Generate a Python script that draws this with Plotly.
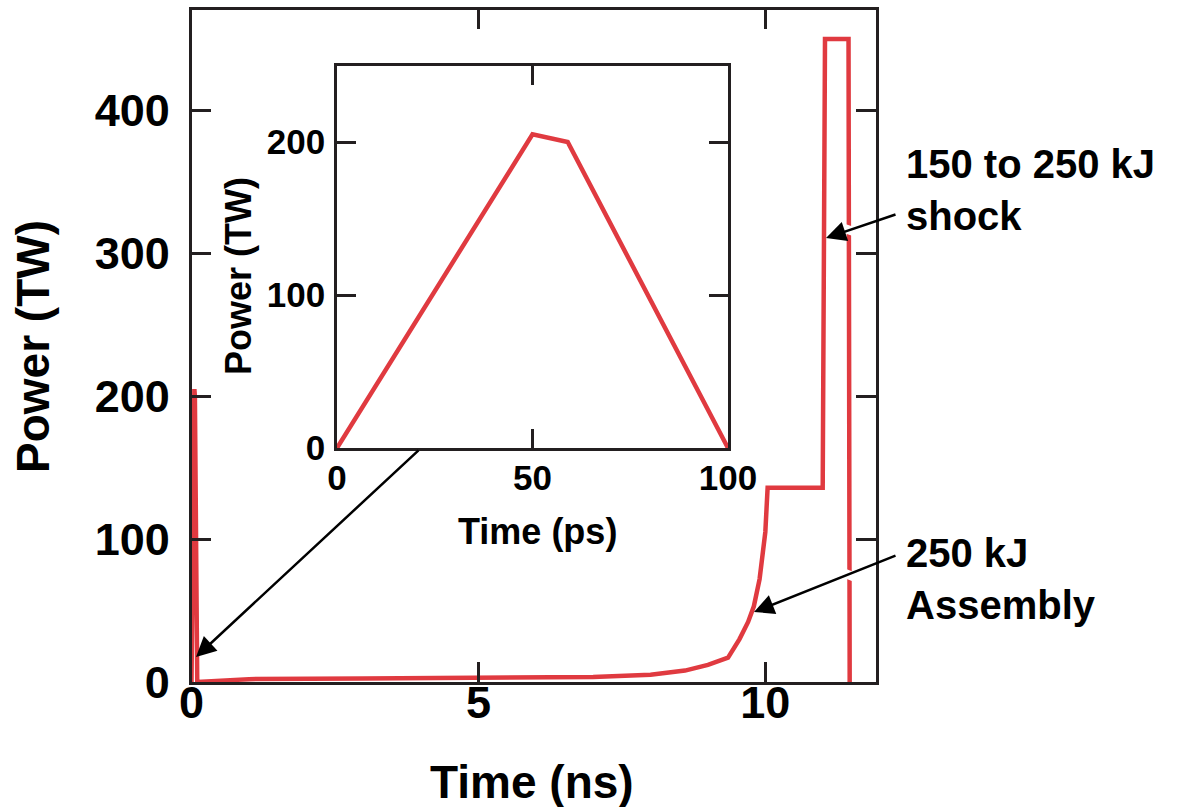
import plotly.graph_objects as go

# Laser pulse shape: power (TW) vs time (ns)
time_ns = [0.0, 0.05, 0.059, 0.1, 1.0, 3.0, 5.0, 7.0, 8.0, 8.6, 9.0, 9.35, 9.55,
           9.7, 9.8, 9.9, 10.0, 10.04, 11.0, 11.04, 11.45, 11.47]
power_tw = [0, 205, 200, 0, 2, 2.5, 3, 3.5, 5, 8, 12, 17, 30,
            42, 53, 72, 105, 136, 136, 450, 450, 0]

# Expanded view of the initial spike: power (TW) vs time (ps)
time_ps = [0, 50, 59, 100]
spike_tw = [0, 205, 200, 0]

main_xticks = [0, 5, 10]
main_yticks = [0, 100, 200, 300, 400]
inset_xticks = [0, 50, 100]
inset_yticks = [0, 100, 200]

RED = "#e03a40"
INK = "#231f20"
FONT = "Liberation Sans"
W, H = 1188, 807

fig = go.Figure()
fig.add_trace(go.Scatter(x=time_ns, y=power_tw, mode="lines",
                         line=dict(color=RED, width=4.5), xaxis="x", yaxis="y",
                         showlegend=False))
fig.add_trace(go.Scatter(x=time_ps, y=spike_tw, mode="lines",
                         line=dict(color=RED, width=4.5), xaxis="x2", yaxis="y2",
                         showlegend=False))

def axis(domain, rng, ticks, size, ticklen, anchor, standoff):
    return dict(domain=domain, range=rng, tickvals=ticks, ticktext=[str(t) for t in ticks],
                showline=True, linecolor=INK, linewidth=2.5, mirror="ticks",
                ticks="inside", ticklen=ticklen, tickwidth=2.5, tickcolor=INK,
                showgrid=False, zeroline=False, anchor=anchor, automargin=False,
                ticklabelstandoff=standoff,
                tickfont=dict(family=FONT, size=size, color="black", weight="bold"))

mx = [191.5 / W, 875.5 / W]
my = [1 - 682 / H, 1 - 9.5 / H]
ix = [337 / W, 728 / W]
iy = [1 - 448 / H, 1 - 66 / H]

fig.update_layout(
    template="none",
    width=W, height=H, margin=dict(l=0, r=0, t=0, b=0, pad=0, autoexpand=False),
    autosize=False, showlegend=False,
    paper_bgcolor="white", plot_bgcolor="white",
    xaxis=axis(mx, [0, 11.92], main_xticks, 45, 20, "y", -21),
    yaxis=axis(my, [0, 470.6], main_yticks, 45, 20, "x", 10),
    xaxis2=axis(ix, [0, 100], inset_xticks, 35, 19, "y2", -3),
    yaxis2=axis(iy, [0, 249.7], inset_yticks, 35, 19, "x2", 2),
)

def px(x, y):
    return x / W, 1 - y / H

def text(x, y, s, size, angle=0, xanchor="center"):
    fx, fy = px(x, y)
    fig.add_annotation(x=fx, y=fy, xref="paper", yref="paper", text=s, showarrow=False,
                       textangle=angle, xanchor=xanchor, yanchor="middle", align="left",
                       font=dict(family=FONT, size=size, color="black", weight="bold"))

# Axis titles
text(532, 782, "Time (ns)", 46)
text(33, 347, "Power (TW)", 46, angle=-90)
text(537, 531, "Time (ps)", 36)
text(238, 276, "Power (TW)", 36, angle=-90)

# Labels
text(904, 190, "150 to 250 kJ<br>shock", 40, xanchor="left")
text(904, 579, "250 kJ<br>Assembly", 40, xanchor="left")

# White knock-outs where the pointers cross the pulse
for (x0, y0, x1, y1) in [(840, 227.0, 858, 233.0), (840, 571.5, 858, 578.5)]:
    a0, b0 = px(x0, y0)
    a1, b1 = px(x1, y1)
    fig.add_shape(type="line", xref="paper", yref="paper", x0=a0, y0=b0, x1=a1, y1=b1,
                  line=dict(color="white", width=9), layer="above")

def arrow(tail, head):
    hx, hy = px(*head)
    fig.add_annotation(x=hx, y=hy, xref="paper", yref="paper",
                       ax=tail[0] - head[0], ay=tail[1] - head[1],
                       axref="pixel", ayref="pixel", text="", showarrow=True,
                       arrowhead=2, arrowsize=1.6, arrowwidth=2.5, arrowcolor="black")

arrow((420, 449), (196, 657))
arrow((897, 214), (826, 238))
arrow((897, 555), (754, 612))

fig.write_html("out.html")
